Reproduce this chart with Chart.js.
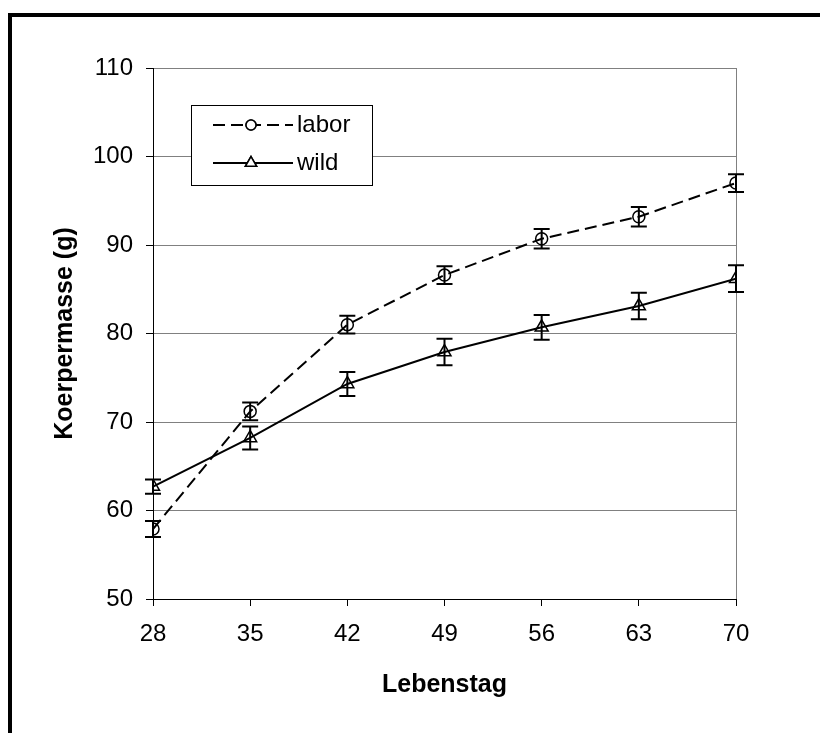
<!DOCTYPE html>
<html>
<head>
  <title>Koerpermasse labor / wild</title>
  <script src="https://cdn.jsdelivr.net/npm/chart.js@4.4.1/dist/chart.umd.min.js"></script>
  <style>
    body {
      margin: 0;
      padding: 0;
      overflow: hidden;
      background: #fff;
    }
    .frame {
      position: absolute;
      left: 8px;
      top: 13px;
      width: 820px;
      height: 740px;
      border-top: 4px solid #000;
      border-left: 4px solid #000;
    }
    .chart-container {
      position: absolute;
      left: 0;
      top: 0;
      width: 820px;
      height: 733px;
    }
  </style>
</head>
<body>
  <div class="frame"></div>
  <div class="chart-container">
    <canvas id="massChart" width="820" height="733"></canvas>
  </div>

  <script>
    // Data
    const days = [28, 35, 42, 49, 56, 63, 70];
    const laborMass = [57.9, 71.2, 81.0, 86.6, 90.7, 93.2, 97.0];
    const laborErr = [0.9, 1.0, 1.0, 1.0, 1.1, 1.1, 1.0];
    const wildMass = [62.7, 68.2, 74.3, 77.9, 80.7, 83.1, 86.2];
    const wildErr = [0.8, 1.3, 1.35, 1.5, 1.4, 1.5, 1.5];
    const xTicks = [28, 35, 42, 49, 56, 63, 70];
    const yTicks = [50, 60, 70, 80, 90, 100, 110];

    const FONT = '"Liberation Sans", Arial, Helvetica, sans-serif';

    // Error bars drawn with the chart's own scales
    const errorBars = {
      id: 'errorBars',
      afterDatasetsDraw(chart) {
        const { ctx, scales: { x, y } } = chart;
        ctx.save();
        ctx.strokeStyle = '#000';
        ctx.lineWidth = 2;
        chart.data.datasets.forEach(ds => {
          ds.data.forEach((p, i) => {
            const px = x.getPixelForValue(p.x);
            const top = y.getPixelForValue(p.y + ds.err[i]);
            const bot = y.getPixelForValue(p.y - ds.err[i]);
            ctx.beginPath();
            ctx.moveTo(px, top); ctx.lineTo(px, bot);
            ctx.moveTo(px - 8, top); ctx.lineTo(px + 8, top);
            ctx.moveTo(px - 8, bot); ctx.lineTo(px + 8, bot);
            ctx.stroke();
          });
        });
        ctx.restore();
      }
    };

    // Excel-like legend box
    const legendBox = {
      id: 'legendBox',
      afterDraw(chart) {
        const { ctx } = chart;
        ctx.save();
        ctx.fillStyle = '#fff';
        ctx.fillRect(191, 105, 182, 81);
        ctx.strokeStyle = '#000';
        ctx.lineWidth = 1;
        ctx.strokeRect(191.5, 105.5, 181, 80);

        const rows = [
          { y: 125, dash: [12, 6], marker: 'circle', r: 5, label: chart.data.datasets[0].label },
          { y: 163, dash: [], marker: 'triangle', r: 6.5, label: chart.data.datasets[1].label }
        ];
        rows.forEach(r => {
          ctx.strokeStyle = '#000';
          ctx.lineWidth = 2;
          ctx.setLineDash(r.dash);
          ctx.beginPath();
          ctx.moveTo(213, r.y);
          ctx.lineTo(293, r.y);
          ctx.stroke();
          ctx.setLineDash([]);
          ctx.fillStyle = '#fff';
          ctx.lineWidth = 1.5;
          Chart.helpers.drawPoint(ctx, { pointStyle: r.marker, radius: r.r, borderWidth: 1.5 }, 251, r.y);
          ctx.fill();
          ctx.stroke();
          ctx.fillStyle = '#000';
          ctx.font = '24px ' + FONT;
          ctx.textBaseline = 'middle';
          ctx.textAlign = 'left';
          ctx.fillText(r.label, 297, r.y);
        });
        ctx.restore();
      }
    };

    const ctx = document.getElementById('massChart').getContext('2d');
    const chart = new Chart(ctx, {
      type: 'line',
      data: {
        datasets: [
          {
            label: 'labor',
            data: days.map((d, i) => ({ x: d, y: laborMass[i] })),
            err: laborErr,
            borderColor: '#000',
            borderWidth: 2,
            borderDash: [12, 6],
            pointStyle: 'circle',
            pointRadius: 6,
            pointBorderWidth: 1.5,
            pointBorderColor: '#000',
            pointBackgroundColor: 'rgba(255,255,255,0)',
            tension: 0
          },
          {
            label: 'wild',
            data: days.map((d, i) => ({ x: d, y: wildMass[i] })),
            err: wildErr,
            borderColor: '#000',
            borderWidth: 2,
            pointStyle: 'triangle',
            pointRadius: 7.5,
            pointBorderWidth: 1.5,
            pointBorderColor: '#000',
            pointBackgroundColor: 'rgba(255,255,255,0)',
            tension: 0
          }
        ]
      },
      options: {
        responsive: false,
        animation: false,
        layout: {
          padding: { top: 68, right: 84, left: 0, bottom: 0 }
        },
        plugins: {
          legend: { display: false },
          tooltip: { enabled: false }
        },
        scales: {
          x: {
            type: 'linear',
            min: 28,
            max: 70,
            afterBuildTicks: axis => { axis.ticks = xTicks.map(v => ({ value: v })); },
            afterFit: axis => { axis.height = 134; },
            ticks: {
              color: '#000',
              padding: 14,
              maxRotation: 0,
              font: { family: FONT, size: 24 }
            },
            grid: {
              color: c => (c.tick && c.tick.value === 70 ? '#808080' : 'transparent'),
              tickColor: '#000',
              tickLength: 7,
              lineWidth: 1
            },
            border: { color: '#000', width: 1 },
            title: {
              display: true,
              text: 'Lebenstag',
              color: '#000',
              font: { family: FONT, size: 25, weight: 'bold' },
              padding: { top: 0, bottom: 33 }
            }
          },
          y: {
            type: 'linear',
            min: 50,
            max: 110,
            afterBuildTicks: axis => { axis.ticks = yTicks.map(v => ({ value: v })); },
            afterFit: axis => { axis.width = 153; },
            ticks: {
              color: '#000',
              padding: 13,
              font: { family: FONT, size: 24 }
            },
            grid: {
              color: '#808080',
              tickColor: '#000',
              tickLength: 7,
              lineWidth: 1
            },
            border: { color: '#000', width: 1 },
            title: {
              display: true,
              text: 'Koerpermasse (g)',
              color: '#000',
              font: { family: FONT, size: 25, weight: 'bold' },
              padding: { top: 50, bottom: 0 }
            }
          }
        }
      },
      plugins: [errorBars, legendBox]
    });
  </script>
</body>
</html>
